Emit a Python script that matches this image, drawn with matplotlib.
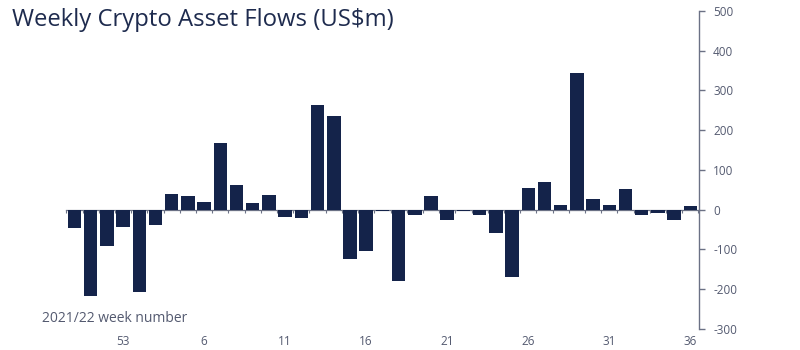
import matplotlib
matplotlib.use("Agg")
import matplotlib.pyplot as plt
import numpy as np

weeks = [50, 51, 52, 53, 2, 3, 4, 5, 6, 7, 8, 9, 10, 11, 12, 13, 14, 15, 16, 17,
         18, 19, 20, 21, 22, 23, 24, 25, 26, 27, 28, 29, 30, 31, 32, 33, 34, 35, 36]
flows = [-47, -218, -90, -44, -206, -38, 39, 35, 19, 169, 61, 16, 36, -19, -21,
         264, 235, -125, -105, -2, -180, -13, 35, -25, -2, -13, -59, -168, 54, 71,
         11, 343, 28, 13, 51, -12, -7, -27, 9]
tick_weeks = [53, 6, 11, 16, 21, 26, 31, 36]
y_ticks = [-300, -200, -100, 0, 100, 200, 300, 400, 500]

bar_color = "#14234a"
axis_color = "#6b7185"
text_color = "#545a70"
title_color = "#1e2b4e"

plt.rcParams['font.family'] = ['Open Sans', 'DejaVu Sans']

fig = plt.figure(figsize=(8, 3.5), dpi=100)
ax = fig.add_axes([0.082, 0.06, 0.874 - 0.082, 0.9086])

x = np.arange(len(flows))
ax.bar(x, flows, width=0.83, color=bar_color, zorder=3)

ax.set_xlim(-0.55, len(flows) - 0.45)
ax.set_ylim(-300, 500)

# spines
for s in ['top', 'left']:
    ax.spines[s].set_visible(False)
ax.spines['right'].set_color(axis_color)
ax.spines['right'].set_linewidth(1.0)
ax.spines['bottom'].set_position(('data', 0))
ax.spines['bottom'].set_color(axis_color)
ax.spines['bottom'].set_linewidth(0.9)
ax.spines['bottom'].set_zorder(2)

ax.yaxis.tick_right()
ax.set_yticks(y_ticks)
ax.set_yticklabels([str(v) for v in y_ticks])
ax.tick_params(axis='y', colors=axis_color, labelcolor=text_color, labelsize=8.5,
               length=4, width=1.0, pad=6)

# minor tick marks at bar boundaries on zero line, no labels
ax.set_xticks(np.arange(len(flows) + 1) - 0.5)
ax.set_xticklabels([])
ax.tick_params(axis='x', colors=axis_color, length=2.5, width=0.8, direction='out')

# week labels at the bottom
trans = ax.get_xaxis_transform()
for w in tick_weeks:
    i = weeks.index(w)
    ax.text(i, -0.038, str(w), transform=trans, ha='center', va='center',
            fontsize=8.5, color=text_color)

fig.text(42 / 800, 1 - 318 / 350, "2021/22 week number", ha='left', va='center',
         fontsize=10, color=text_color)
fig.text(12 / 800, 1 - 20 / 350, "Weekly Crypto Asset Flows (US$m)", ha='left',
         va='center', fontsize=17.2, color=title_color)

fig.savefig("out.png", dpi=100, facecolor='white')
